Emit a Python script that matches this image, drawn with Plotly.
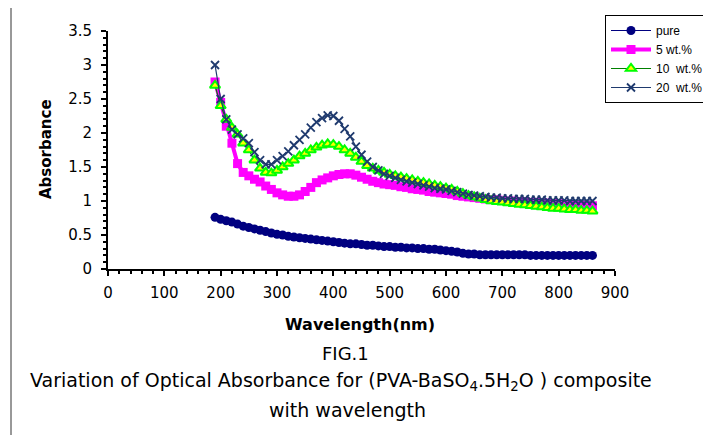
import plotly.graph_objects as go

wavelength = list(range(190, 861, 10))

pure = [0.76, 0.73, 0.71, 0.69, 0.66, 0.63, 0.61, 0.59, 0.57, 0.55,
        0.53, 0.51, 0.50, 0.48, 0.47, 0.46, 0.45, 0.44, 0.43, 0.42,
        0.41, 0.40, 0.39, 0.38, 0.37, 0.37, 0.36, 0.35, 0.35, 0.34,
        0.33, 0.33, 0.32, 0.32, 0.31, 0.31, 0.30, 0.30, 0.29, 0.29,
        0.28, 0.27, 0.26, 0.25, 0.23, 0.22, 0.22, 0.21, 0.21, 0.21,
        0.21, 0.21, 0.21, 0.21, 0.21, 0.21, 0.20, 0.20, 0.20, 0.20,
        0.20, 0.20, 0.20, 0.20, 0.20, 0.20, 0.20, 0.20]

wt5 = [2.75, 2.45, 2.10, 1.85, 1.55, 1.42, 1.37, 1.32, 1.28, 1.22,
       1.17, 1.12, 1.09, 1.07, 1.07, 1.09, 1.14, 1.20, 1.27, 1.31,
       1.34, 1.37, 1.39, 1.40, 1.40, 1.38, 1.35, 1.32, 1.29, 1.27,
       1.25, 1.24, 1.23, 1.21, 1.20, 1.18, 1.17, 1.16, 1.14, 1.13,
       1.12, 1.11, 1.10, 1.08, 1.07, 1.06, 1.05, 1.04, 1.03, 1.02,
       1.02, 1.01, 1.00, 1.00, 0.99, 0.99, 0.98, 0.98, 0.97, 0.97,
       0.96, 0.96, 0.95, 0.95, 0.94, 0.94, 0.93, 0.93]

wt10 = [2.70, 2.40, 2.20, 2.08, 1.98, 1.85, 1.75, 1.60, 1.48, 1.42,
        1.41, 1.45, 1.50, 1.55, 1.60, 1.66, 1.70, 1.75, 1.79, 1.82,
        1.84, 1.83, 1.80, 1.75, 1.70, 1.64, 1.58, 1.52, 1.48, 1.45,
        1.42, 1.39, 1.37, 1.35, 1.33, 1.31, 1.29, 1.27, 1.25, 1.23,
        1.21, 1.19, 1.17, 1.14, 1.11, 1.08, 1.06, 1.04, 1.02, 1.00,
        0.99, 0.98, 0.97, 0.96, 0.95, 0.94, 0.93, 0.92, 0.91, 0.90,
        0.89, 0.89, 0.88, 0.87, 0.87, 0.86, 0.86, 0.85]

wt20 = [3.00, 2.50, 2.20, 2.05, 1.98, 1.92, 1.85, 1.72, 1.60, 1.54,
        1.54, 1.60, 1.66, 1.73, 1.82, 1.90, 1.98, 2.08, 2.16, 2.22,
        2.26, 2.25, 2.18, 2.06, 1.95, 1.80, 1.68, 1.58, 1.50, 1.45,
        1.40, 1.37, 1.34, 1.31, 1.29, 1.27, 1.25, 1.23, 1.21, 1.19,
        1.18, 1.17, 1.15, 1.13, 1.11, 1.09, 1.08, 1.07, 1.06, 1.05,
        1.05, 1.04, 1.04, 1.03, 1.03, 1.03, 1.02, 1.02, 1.02, 1.01,
        1.01, 1.01, 1.01, 1.00, 1.00, 1.00, 1.00, 1.00]

series_names = ["pure", "5 wt.%", "10  wt.%", "20  wt.%"]

fig = go.Figure()
fig.add_trace(go.Scatter(x=wavelength, y=pure, name=series_names[0], mode="lines+markers",
                         line=dict(color="#000080", width=1.2),
                         marker=dict(symbol="circle", size=9, color="#000080")))
fig.add_trace(go.Scatter(x=wavelength, y=wt5, name=series_names[1], mode="lines+markers",
                         line=dict(color="#FF00FF", width=4),
                         marker=dict(symbol="square", size=9, color="#FF00FF")))
fig.add_trace(go.Scatter(x=wavelength, y=wt10, name=series_names[2], mode="lines+markers",
                         line=dict(color="#008000", width=1.2),
                         marker=dict(symbol="triangle-up", size=9, color="#FFFF00",
                                     line=dict(color="#00FF00", width=2))))
fig.add_trace(go.Scatter(x=wavelength, y=wt20, name=series_names[3], mode="lines+markers",
                         line=dict(color="#1F3A6E", width=1.2),
                         marker=dict(symbol="x-thin-open", size=8,
                                     line=dict(color="#800080", width=1.8))))

# reference pixel geometry of the plot area (page has an 8px body offset)
OFF = 8
L, R, T, B = 108, 615, 31, 269
W, H = R - L, B - T
def px(x):
    return (x - L) / W
def py(y):
    return (B - y) / H

font = "DejaVu Sans, Liberation Sans, Arial, sans-serif"

def note(text, x, y, size, angle=0):
    return dict(text=text, xref="paper", yref="paper", x=px(x), y=py(y),
                xanchor="center", yanchor="middle", showarrow=False,
                textangle=angle, font=dict(size=size))

fig.update_layout(
    width=711, height=435,
    margin=dict(l=L - OFF, r=711 - (R - OFF), t=T - OFF, b=435 - (B - OFF), autoexpand=False),
    paper_bgcolor="white", plot_bgcolor="white",
    font=dict(family=font, size=15, color="black"),
    showlegend=True,
    legend=dict(x=px(605), y=py(15), xanchor="left", yanchor="top",
                bordercolor="black", borderwidth=1, bgcolor="white",
                font=dict(family="Liberation Sans, Arial, sans-serif", size=12),
                tracegroupgap=0, itemwidth=40),
    xaxis=dict(range=[0, 900], dtick=100, showgrid=False, zeroline=False,
               showline=True, linecolor="black", linewidth=2,
               ticks="outside", ticklen=5, tickcolor="black", tickwidth=1.5,
               minor=dict(dtick=20, ticks="outside", ticklen=3, tickcolor="black"),
               ticklabelstandoff=4,
               tickfont=dict(size=15)),
    yaxis=dict(range=[0, 3.5], dtick=0.5, showgrid=False, zeroline=False,
               showline=True, linecolor="black", linewidth=2,
               ticks="outside", ticklen=5, tickcolor="black", tickwidth=1.5,
               minor=dict(dtick=0.1, ticks="outside", ticklen=3, tickcolor="black"),
               ticklabelstandoff=6,
               tickfont=dict(size=15)),
    shapes=[
        dict(type="line", xref="paper", yref="paper", x0=px(10), x1=px(720), y0=py(7), y1=py(7),
             line=dict(color="#888888", width=2)),
        dict(type="line", xref="paper", yref="paper", x0=px(11), x1=px(11), y0=py(7), y1=py(440),
             line=dict(color="#333333", width=1)),
    ],
    annotations=[
        note("<b>Absorbance</b>", 46, 149, 15, angle=-90),
        note("<b>Wavelength(nm)</b>", 360, 324, 16),
        note("FIG.1", 345, 353, 18),
        note("Variation of Optical Absorbance for (PVA-BaSO<sub>4</sub>.5H<sub>2</sub>O ) composite",
             341, 381, 19),
        note("with wavelength", 347, 410, 19),
    ],
)

fig.write_html("out.html")
